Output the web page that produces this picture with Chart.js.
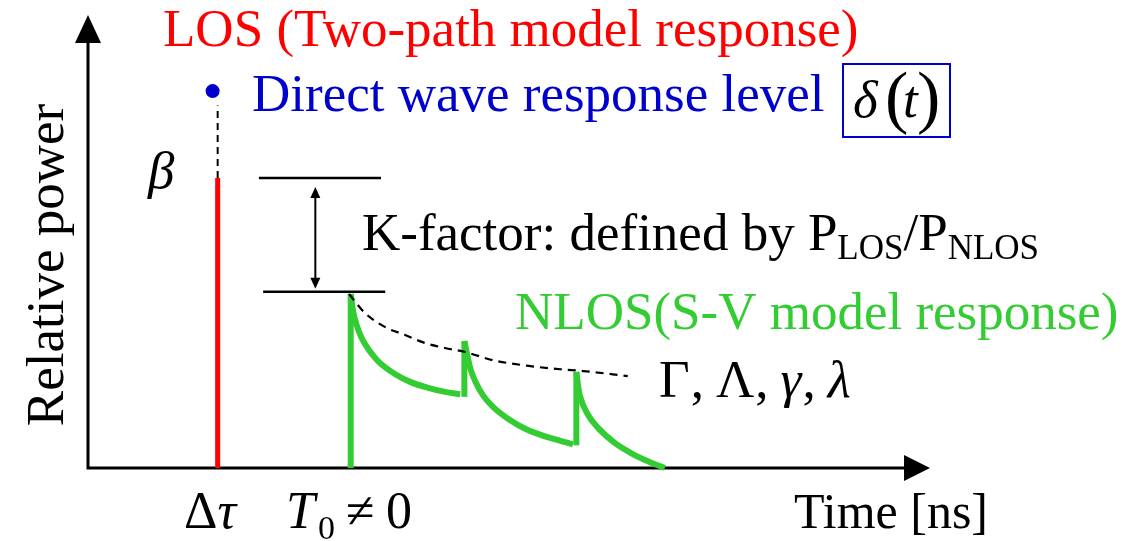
<!DOCTYPE html>
<html>
<head>
<meta charset="utf-8">
<script src="https://cdn.jsdelivr.net/npm/chart.js@4"></script>
<style>
html, body { margin: 0; padding: 0; background: #fff; }
#wrap { width: 1124px; height: 541px; position: relative; }
</style>
</head>
<body>
<div id="wrap"><canvas id="myChart"></canvas></div>
<script>
// time in ns (0..100), relative power (0..1)
const timeMax = 100;
const powerMax = 1;

// LOS (two-path model)
const losTime = 15.4;        // Δτ
const losPower = 0.64;       // β
const directTime = 14.8;
const directPower = 0.832;   // δ(t) level
const dashTop = 0.80;

// NLOS clusters (S-V model)
const clusterTimes = [31.2, 44.7, 58.0];
const clusterPeaks = [0.384, 0.280, 0.212];
const clusterBases = [0, 0.157, 0.050];

const decay1Time = [31.2, 31.5, 31.9, 32.5, 33.5, 34.5, 36.5, 38.4, 40.4, 42.4, 44.2];
const decay1Power = [0.384, 0.345, 0.316, 0.287, 0.257, 0.235, 0.207, 0.189, 0.177, 0.168, 0.163];
const decay2Time = [44.7, 45.05, 45.4, 46.0, 46.9, 48.1, 50.1, 52.1, 54.1, 56.1, 57.6];
const decay2Power = [0.280, 0.249, 0.220, 0.191, 0.161, 0.135, 0.106, 0.085, 0.071, 0.060, 0.052];
const decay3Time = [58.0, 58.2, 58.4, 59.4, 60.6, 62.6, 64.6, 66.5, 68.5];
const decay3Power = [0.212, 0.183, 0.161, 0.117, 0.088, 0.055, 0.032, 0.015, 0.0];

// cluster envelope (dashed)
const envTime = [31.0, 32.9, 35.3, 37.6, 40.0, 42.4, 44.8, 48.1, 52.1, 56.1, 58.8, 64.1];
const envPower = [0.384, 0.342, 0.311, 0.294, 0.276, 0.265, 0.256, 0.238, 0.226, 0.218, 0.214, 0.203];

// K-factor marker levels
const kTopTime = [20.3, 34.8];
const kBottomTime = [20.8, 35.3];
const kTopPower = 0.640;
const kBottomPower = 0.389;
const kArrowTime = 27.0;

// S-V parameters label
const svParams = ['Γ', 'Λ', 'γ', 'λ'];
const svItalic = [false, false, true, true];

const RED = '#ff0000';
const BLUE = '#0000cc';
const GREEN = '#33cc33';
const SERIF = '"Liberation Serif", "Times New Roman", serif';

const pts = (xs, ys) => xs.map((x, i) => ({x: x, y: ys[i]}));

const line = (data, color, width, extra) => Object.assign({
    data: data,
    showLine: true,
    borderColor: color,
    backgroundColor: color,
    borderWidth: width,
    pointRadius: 0,
    fill: false,
    clip: false,
    tension: 0,
    borderCapStyle: 'butt'
}, extra || {});

const datasets = [
    line(pts([losTime, losTime], [0, losPower]), RED, 5),
    line(pts([losTime, losTime], [losPower, dashTop]), '#000', 2, {borderDash: [7, 5]}),
    {
        data: [{x: directTime, y: directPower}],
        pointRadius: 7,
        backgroundColor: BLUE,
        borderColor: BLUE,
        borderWidth: 0,
        clip: false
    },
    line(pts(envTime, envPower), '#000', 2.2, {borderDash: [8, 6], cubicInterpolationMode: 'monotone'}),
    line(pts(kTopTime, [kTopPower, kTopPower]), '#000', 2.5),
    line(pts(kBottomTime, [kBottomPower, kBottomPower]), '#000', 2.5)
];

clusterTimes.forEach((t, i) => {
    datasets.push(line(pts([t, t], [clusterBases[i], clusterPeaks[i]]), GREEN, 6));
});
[[decay1Time, decay1Power], [decay2Time, decay2Power], [decay3Time, decay3Power]].forEach(d => {
    datasets.push(line(pts(d[0], d[1]), GREEN, 6, {cubicInterpolationMode: 'monotone'}));
});

function txt(ctx, s, x, y, size, color, italic) {
    ctx.font = (italic ? 'italic ' : '') + size + 'px ' + SERIF;
    ctx.fillStyle = color;
    ctx.fillText(s, x, y);
    return x + ctx.measureText(s).width;
}

const axesPlugin = {
    id: 'axesArrows',
    beforeDatasetsDraw(chart) {
        const ctx = chart.ctx;
        const a = chart.chartArea;
        ctx.save();
        ctx.strokeStyle = '#000';
        ctx.fillStyle = '#000';
        ctx.lineWidth = 3;
        ctx.beginPath();
        ctx.moveTo(a.left, a.bottom + 1.5);
        ctx.lineTo(a.left, a.top + 26);
        ctx.moveTo(a.left - 1.5, a.bottom);
        ctx.lineTo(a.right - 24, a.bottom);
        ctx.stroke();
        ctx.beginPath();
        ctx.moveTo(a.left, a.top);
        ctx.lineTo(a.left - 13, a.top + 28);
        ctx.lineTo(a.left + 13, a.top + 28);
        ctx.closePath();
        ctx.moveTo(a.right, a.bottom);
        ctx.lineTo(a.right - 26, a.bottom - 13);
        ctx.lineTo(a.right - 26, a.bottom + 13);
        ctx.closePath();
        ctx.fill();
        ctx.restore();
    }
};

const notesPlugin = {
    id: 'notes',
    afterDraw(chart) {
        const ctx = chart.ctx;
        const xs = chart.scales.x;
        const ys = chart.scales.y;
        ctx.save();
        ctx.textBaseline = 'alphabetic';
        ctx.textAlign = 'left';

        // K-factor double arrow
        const ax = xs.getPixelForValue(kArrowTime);
        const y1 = ys.getPixelForValue(kTopPower) + 9;
        const y2 = ys.getPixelForValue(kBottomPower) - 3;
        ctx.strokeStyle = '#000';
        ctx.fillStyle = '#000';
        ctx.lineWidth = 2;
        ctx.beginPath();
        ctx.moveTo(ax, y1 + 8);
        ctx.lineTo(ax, y2 - 8);
        ctx.stroke();
        ctx.beginPath();
        ctx.moveTo(ax, y1);
        ctx.lineTo(ax - 5, y1 + 11);
        ctx.lineTo(ax + 5, y1 + 11);
        ctx.closePath();
        ctx.moveTo(ax, y2);
        ctx.lineTo(ax - 5, y2 - 11);
        ctx.lineTo(ax + 5, y2 - 11);
        ctx.closePath();
        ctx.fill();

        // titles
        txt(ctx, 'LOS (Two-path model response)', 163, 46, 53, RED);
        txt(ctx, 'Direct wave response level', 252, 111, 53, BLUE);

        // δ(t) box
        ctx.strokeStyle = BLUE;
        ctx.lineWidth = 2;
        ctx.strokeRect(843, 64, 107, 73);
        txt(ctx, 'δ', 853, 117, 53, '#000', true);
        txt(ctx, '(', 885, 120, 70, '#000');
        txt(ctx, 't', 903, 117, 53, '#000', true);
        txt(ctx, ')', 917, 120, 70, '#000');

        txt(ctx, 'β', 148, 188, 53, '#000', true);

        let x = txt(ctx, 'K-factor: defined by P', 362, 250, 53, '#000');
        x = txt(ctx, 'LOS', x, 259, 35, '#000');
        x = txt(ctx, '/P', x, 250, 53, '#000');
        txt(ctx, 'NLOS', x, 259, 35, '#000');

        txt(ctx, 'NLOS(S-V model response)', 515, 329, 53, GREEN);

        // Γ, Λ, γ, λ
        x = 659;
        svParams.forEach((s, i) => {
            x = txt(ctx, s, x, 397, 53, '#000', svItalic[i]);
            if (i < svParams.length - 1) {
                x = txt(ctx, ',', x + 1, 397, 53, '#000') + 12;
            }
        });

        // x labels
        x = txt(ctx, 'Δ', 184, 528, 52, '#000');
        txt(ctx, 'τ', x, 528, 52, '#000', true);
        txt(ctx, 'T', 286, 528, 52, '#000', true);
        txt(ctx, '0', 318, 539, 34, '#000');
        txt(ctx, '≠', 346, 528, 52, '#000');
        txt(ctx, '0', 386, 528, 52, '#000');
        txt(ctx, 'Time [ns]', 794, 528, 50, '#000');

        // y label
        ctx.translate(63, 265);
        ctx.rotate(-Math.PI / 2);
        ctx.textAlign = 'center';
        txt(ctx, 'Relative power', 0, 0, 53, '#000');
        ctx.restore();
    }
};

const config = {
    type: 'scatter',
    data: {datasets: datasets},
    options: {
        responsive: true,
        maintainAspectRatio: false,
        animation: false,
        layout: {padding: {left: 88, right: 194, top: 15, bottom: 73}},
        plugins: {legend: {display: false}, tooltip: {enabled: false}},
        scales: {
            x: {type: 'linear', min: 0, max: timeMax, display: false},
            y: {type: 'linear', min: 0, max: powerMax, display: false}
        }
    },
    plugins: [axesPlugin, notesPlugin]
};

const myChart = new Chart(document.getElementById('myChart'), config);
</script>
</body>
</html>
